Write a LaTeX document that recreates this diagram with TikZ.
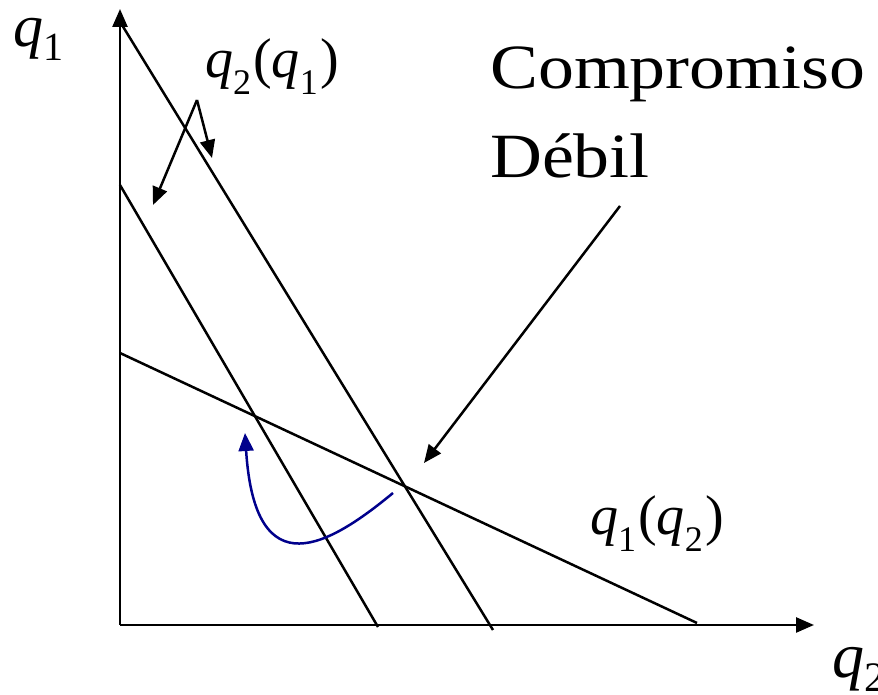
\documentclass[tikz,border=0pt]{standalone}
\usepackage{fontspec}
\setmainfont{Liberation Serif}
\usetikzlibrary{arrows.meta}
\definecolor{curvblue}{RGB}{0,0,140}
\newcommand{\qsub}[4]{{\fontsize{#1}{#1}\selectfont\textit{q}\raisebox{-#4pt}{\fontsize{#2}{#2}\selectfont #3}}}
\begin{document}
\begin{tikzpicture}[x=1pt,y=1pt,
  line/.style={line width=2.5pt, line cap=butt},
  arr/.style={line width=2.5pt, -{Triangle[length=18pt,width=15pt]}},
  blab/.style={anchor=base west, inner sep=0pt, font=\fontsize{63}{63}\selectfont},
  qlab/.style={anchor=base west, inner sep=0pt}]
\useasboundingbox (0,0) rectangle (878,695);
% axes
\coordinate (O) at (120,70);
\coordinate (ytip) at (120,686);
\coordinate (xtip) at (814,70);
\draw[arr] (O) -- (ytip);
\draw[arr] (O) -- (xtip);
% reaction lines
\coordinate (outerTop) at (122,670);
\coordinate (outerBot) at (493,65);
\coordinate (innerTop) at (120,510);
\coordinate (innerBot) at (378,68);
\coordinate (rTop) at (120,342);
\coordinate (rBot) at (697,72);
\draw[line] (outerTop) -- (outerBot);
\draw[line] (innerTop) -- (innerBot);
\draw[line] (rTop) -- (rBot);
% labels
\node[qlab] (q1lab) at (13,648) {\qsub{60}{40}{1}{14}};
\node[qlab] (q2lab) at (832,17) {\qsub{64}{42}{2}{14}};
\node[qlab] (q2q1) at (205,617) {\qsub{56}{36}{2}{17}\hspace{2pt}{\fontsize{56}{56}\selectfont(}\qsub{56}{36}{1}{17}\hspace{3pt}{\fontsize{56}{56}\selectfont)}};
\node[qlab] (q1q2) at (590,160) {\qsub{56}{36}{1}{17}\hspace{2pt}{\fontsize{56}{56}\selectfont(}\qsub{56}{36}{2}{17}\hspace{3pt}{\fontsize{56}{56}\selectfont)}};
\node[blab] (comp) at (490,606) {\scalebox{1.14}[1]{Compromiso}};
\node[blab] (deb) at (490,517) {\scalebox{1.14}[1]{Débil}};
% label arrows
\coordinate (apex) at (197,595);
\coordinate (tipA) at (212,537);
\coordinate (tipB) at (153,490);
\draw[arr] (apex) -- (tipA);
\draw[arr] (apex) -- (tipB);
\coordinate (cStart) at (620,489);
\coordinate (cTip) at (424,232);
\draw[arr] (cStart) -- (cTip);
% adjustment path
\coordinate (bStart) at (393,202);
\coordinate (bTip) at (245,262);
\draw[arr, curvblue] (bStart) .. controls (330,150) and (255,105) .. (bTip);
\end{tikzpicture}
\end{document}
